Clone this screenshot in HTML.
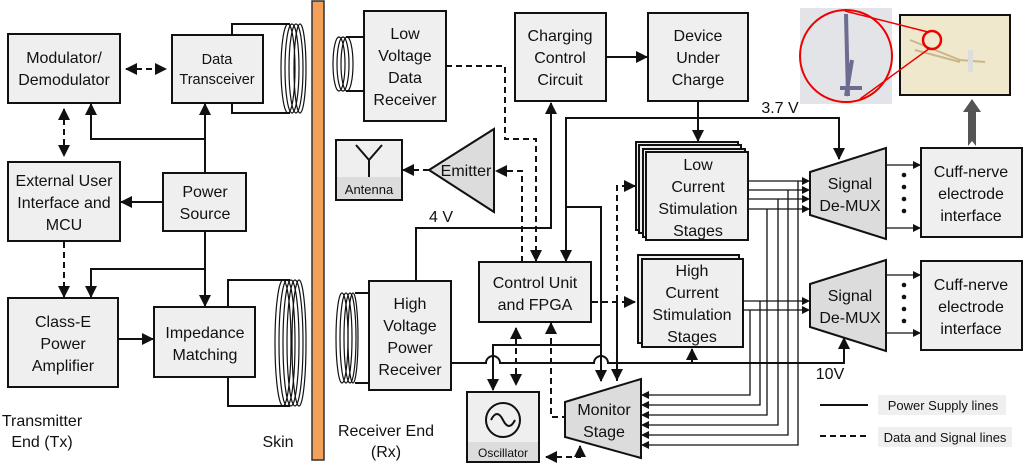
<!DOCTYPE html>
<html><head><meta charset="utf-8"><style>
html,body{margin:0;padding:0;background:#fff}
svg{display:block}
text{font-family:"Liberation Sans",sans-serif;font-size:16px;fill:#111;text-anchor:middle}
.b{fill:#efefef;stroke:#111;stroke-width:2}
.l{fill:none;stroke:#111;stroke-width:2}
.d{fill:none;stroke:#111;stroke-width:2;stroke-dasharray:6,4}
.t{fill:none;stroke:#111;stroke-width:1.3}
.c{fill:none;stroke:#111;stroke-width:1.2}
</style></head><body>
<svg width="1024" height="464" viewBox="0 0 1024 464" xmlns="http://www.w3.org/2000/svg">
<defs>
<marker id="a" markerWidth="8" markerHeight="8" refX="7" refY="4" orient="auto" markerUnits="userSpaceOnUse"><path d="M0,0 L8,4 L0,8 z" fill="#111"/></marker>
<marker id="a2" markerWidth="12" markerHeight="12" refX="11" refY="6" orient="auto" markerUnits="userSpaceOnUse"><path d="M0,0 L12,6 L0,12 z" fill="#111"/></marker>
<marker id="s" markerWidth="12" markerHeight="12" refX="1" refY="6" orient="auto" markerUnits="userSpaceOnUse"><path d="M12,0 L0,6 L12,12 z" fill="#111"/></marker>
</defs>

<rect x="312" y="1" width="12" height="459" fill="#f2a05a" stroke="#333" stroke-width="1.5"/>

<!-- LEFT -->
<rect class="b" x="8" y="34" width="112" height="69"/>
<text x="64" y="63">Modulator/</text><text x="64" y="85">Demodulator</text>
<polyline class="l" points="232,35 232,24 290,24"/>
<polyline class="l" points="232,103 232,113 290,113"/>
<g class="c"><ellipse cx="288" cy="68.5" rx="7" ry="44.5"/><ellipse cx="292" cy="68.5" rx="7" ry="44.5"/><ellipse cx="296" cy="68.5" rx="7" ry="44.5"/><ellipse cx="300" cy="68.5" rx="6" ry="44.5"/></g>
<rect class="b" x="172" y="35" width="91" height="68"/>
<text x="217" y="64" style="font-size:14.5px">Data</text><text x="217" y="84" style="font-size:14.5px">Transceiver</text>
<line class="d" x1="126" y1="69" x2="166" y2="69" marker-end="url(#a2)" marker-start="url(#s)"/>
<line class="d" x1="64" y1="109" x2="64" y2="156" marker-end="url(#a2)" marker-start="url(#s)"/>
<polyline class="l" points="205,173 205,139 91,139 91,104" marker-end="url(#a2)"/>
<line class="l" x1="205" y1="139" x2="205" y2="104" marker-end="url(#a2)"/>
<rect class="b" x="8" y="162" width="112" height="79"/>
<text x="64" y="186">External User</text><text x="64" y="208">Interface and</text><text x="64" y="230">MCU</text>
<rect class="b" x="163" y="173" width="83" height="58"/>
<text x="205" y="197">Power</text><text x="205" y="219">Source</text>
<line class="l" x1="163" y1="202" x2="121" y2="202" marker-end="url(#a2)"/>
<line class="l" x1="205" y1="231" x2="205" y2="306" marker-end="url(#a2)"/>
<polyline class="l" points="205,269 91,269 91,297" marker-end="url(#a2)"/>
<line class="d" x1="64" y1="242" x2="64" y2="297" marker-end="url(#a2)"/>
<rect class="b" x="8" y="298" width="110" height="89"/>
<text x="63" y="327">Class-E</text><text x="63" y="349">Power</text><text x="63" y="371">Amplifier</text>
<line class="l" x1="118" y1="339" x2="153" y2="339" marker-end="url(#a2)"/>
<polyline class="l" points="228,307 228,280 290,280"/>
<polyline class="l" points="228,377 228,406 290,406"/>
<g class="c" stroke-width="1.4"><ellipse cx="283" cy="343" rx="8" ry="63"/><ellipse cx="287" cy="343" rx="8" ry="63"/><ellipse cx="291" cy="343" rx="8" ry="63"/><ellipse cx="295" cy="343" rx="8" ry="63"/><ellipse cx="299" cy="343" rx="7" ry="63"/></g>
<rect class="b" x="154" y="307" width="101" height="70"/>
<text x="205" y="338">Impedance</text><text x="205" y="360">Matching</text>
<text x="42" y="426">Transmitter</text><text x="42" y="447">End (Tx)</text>
<text x="278" y="447">Skin</text>

<!-- RIGHT -->
<polyline class="l" points="364,37 346,37"/><polyline class="l" points="364,91 346,91"/>
<g class="c"><ellipse cx="339" cy="64" rx="6" ry="27"/><ellipse cx="343" cy="64" rx="6" ry="27"/><ellipse cx="347" cy="64" rx="6" ry="27"/></g>
<rect class="b" x="364" y="11" width="82" height="110"/>
<text x="405" y="39">Low</text><text x="405" y="61">Voltage</text><text x="405" y="83">Data</text><text x="405" y="105">Receiver</text>

<rect class="b" x="336" y="140" width="66" height="60"/>
<rect x="337" y="177" width="64" height="22" fill="#dcdcdc"/>
<path class="l" d="M356,145 L369,160 L382,145 M369,160 L369,177"/>
<text x="369" y="194" style="font-size:13px">Antenna</text>
<polygon points="429,170 494,129 494,212" fill="#dcdcdc" stroke="#111" stroke-width="2"/>
<text x="466" y="176">Emitter</text>
<line class="d" x1="429" y1="170" x2="403" y2="170" marker-end="url(#a2)"/>

<polyline class="l" points="416,281 416,228 551,228 551,103" marker-end="url(#a2)"/>
<text x="441" y="222">4 V</text>

<polyline class="l" points="369,293 355,293"/><polyline class="l" points="369,383 355,383"/>
<g class="c"><ellipse cx="342" cy="338" rx="6" ry="45"/><ellipse cx="346" cy="338" rx="6" ry="45"/><ellipse cx="350" cy="338" rx="6" ry="45"/><ellipse cx="353" cy="338" rx="5" ry="45"/></g>
<rect class="b" x="369" y="281" width="82" height="109"/>
<text x="410" y="309">High</text><text x="410" y="331">Voltage</text><text x="410" y="353">Power</text><text x="410" y="375">Receiver</text>

<rect class="b" x="515" y="13" width="91" height="88"/>
<text x="560" y="41">Charging</text><text x="560" y="63">Control</text><text x="560" y="85">Circuit</text>
<rect class="b" x="648" y="13" width="100" height="88"/>
<text x="698" y="41">Device</text><text x="698" y="63">Under</text><text x="698" y="85">Charge</text>
<line class="l" x1="606" y1="57" x2="647" y2="57" marker-end="url(#a2)"/>
<line class="l" x1="698" y1="101" x2="698" y2="141" marker-end="url(#a2)"/>

<polyline class="l" points="566,262 566,118 839,118 839,159" marker-end="url(#a2)"/>
<line class="l" x1="566" y1="118" x2="566" y2="261" marker-end="url(#a2)"/>
<text x="780" y="113">3.7 V</text>
<polyline class="l" points="566,207 601,207 601,381" marker-end="url(#a2)"/>

<polyline class="d" points="446,66 505,66 505,139 536,139 536,261" marker-end="url(#a2)"/>
<polyline class="d" points="522,262 522,171 496,171" marker-end="url(#a2)"/>

<rect class="b" x="479" y="262" width="112" height="60"/>
<text x="535" y="288">Control Unit</text><text x="535" y="310">and FPGA</text>
<line class="d" x1="592" y1="302" x2="635" y2="302" marker-end="url(#a2)"/>
<polyline class="d" points="617,381 617,186 635,186" marker-end="url(#a2)"/>
<line class="d" x1="617" y1="300" x2="617" y2="380" marker-end="url(#a2)"/>

<polyline class="l" points="601,345 493,345 493,390" marker-end="url(#a2)"/>
<path class="l" d="M451,363 L486,363 A7,7 0 0 1 500,363 L594,363 A7,7 0 0 1 608,363 L844,363 L844,338" marker-end="url(#a2)"/>
<line class="l" x1="692" y1="363" x2="692" y2="349" marker-end="url(#a2)"/>
<text x="830" y="379">10V</text>

<line class="d" x1="516" y1="328" x2="516" y2="385" marker-end="url(#a2)" marker-start="url(#s)"/>
<polyline class="d" points="551,328 551,417 565,417"/>
<line class="d" x1="551" y1="329" x2="551" y2="323" marker-end="url(#a2)"/>

<rect class="b" x="467" y="392" width="72" height="70"/>
<rect x="468" y="442" width="70" height="19" fill="#dcdcdc"/>
<circle class="l" cx="503" cy="420" r="17"/>
<path class="l" d="M491,420 q6,-12 12,0 q6,12 12,0"/>
<text x="503" y="457" style="font-size:12px">Oscillator</text>
<polyline class="d" points="546,457 580,457 580,446" marker-start="url(#s)" marker-end="url(#a2)"/>

<polygon points="565,402 641,379 641,458 565,437" fill="#dcdcdc" stroke="#111" stroke-width="2"/>
<text x="604" y="415">Monitor</text><text x="604" y="437">Stage</text>

<rect class="b" x="636" y="142" width="102" height="88"/>
<rect class="b" x="639" y="145" width="102" height="88" fill="#e4e4e4"/>
<rect class="b" x="643" y="149" width="102" height="88" fill="#e2e2e2"/>
<rect class="b" x="646" y="152" width="102" height="88" fill="#dedede"/>
<text x="698" y="170">Low</text><text x="698" y="192">Current</text><text x="698" y="214">Stimulation</text><text x="698" y="236">Stages</text>

<rect class="b" x="638" y="255" width="101" height="88"/>
<rect class="b" x="642" y="259" width="101" height="88" fill="#e4e4e4"/>
<text x="692" y="276">High</text><text x="692" y="298">Current</text><text x="692" y="320">Stimulation</text><text x="692" y="342">Stages</text>

<g class="t">
<line x1="748" y1="181" x2="809" y2="181" marker-end="url(#a)"/>
<line x1="748" y1="190" x2="809" y2="190" marker-end="url(#a)"/>
<line x1="748" y1="199" x2="809" y2="199" marker-end="url(#a)"/>
<line x1="748" y1="209" x2="809" y2="209" marker-end="url(#a)"/>
<line x1="743" y1="301" x2="809" y2="301" marker-end="url(#a)"/>
<line x1="743" y1="310" x2="809" y2="310" marker-end="url(#a)"/>
<polyline points="750,310 750,395 642,395" marker-end="url(#a)"/>
<polyline points="760,301 760,405 642,405" marker-end="url(#a)"/>
<polyline points="767,209 767,415 642,415" marker-end="url(#a)"/>
<polyline points="778,199 778,425 642,425" marker-end="url(#a)"/>
<polyline points="788,190 788,435 642,435" marker-end="url(#a)"/>
<polyline points="798,181 798,445 642,445" marker-end="url(#a)"/>
</g>

<polygon points="810,172 886,148 886,239 810,215" fill="#dcdcdc" stroke="#111" stroke-width="2"/>
<text x="850" y="189">Signal</text><text x="850" y="211">De-MUX</text>
<polygon points="810,284 886,260 886,351 810,327" fill="#dcdcdc" stroke="#111" stroke-width="2"/>
<text x="850" y="301">Signal</text><text x="850" y="323">De-MUX</text>

<g class="t">
<line x1="886" y1="165" x2="920" y2="165" marker-end="url(#a)"/>
<line x1="886" y1="228" x2="920" y2="228" marker-end="url(#a)"/>
<line x1="886" y1="275" x2="920" y2="275" marker-end="url(#a)"/>
<line x1="886" y1="333" x2="920" y2="333" marker-end="url(#a)"/>
</g>
<g fill="#111"><circle cx="904" cy="175" r="2.3"/><circle cx="904" cy="187" r="2.3"/><circle cx="904" cy="199" r="2.3"/><circle cx="904" cy="211" r="2.3"/>
<circle cx="904" cy="285" r="2.3"/><circle cx="904" cy="297" r="2.3"/><circle cx="904" cy="309" r="2.3"/><circle cx="904" cy="321" r="2.3"/></g>

<rect class="b" x="921" y="148" width="101" height="89"/>
<text x="971" y="177">Cuff-nerve</text><text x="971" y="199">electrode</text><text x="971" y="221">interface</text>
<rect class="b" x="921" y="261" width="101" height="89"/>
<text x="971" y="290">Cuff-nerve</text><text x="971" y="312">electrode</text><text x="971" y="334">interface</text>

<polygon points="968,146 968,112 963,112 972,99 981,112 976,112 976,146 972,141" fill="#555"/>
<rect x="800" y="8" width="92" height="96" fill="#e2e4e8"/>
<rect x="900" y="15" width="110" height="80" fill="#efe8cc" stroke="#111" stroke-width="2"/>
<path d="M846,14 L848,96 M852,60 L846,96 M840,88 L862,88" stroke="#6c6c90" stroke-width="4" fill="none"/>
<path d="M910,40 L960,60 L985,62 M915,50 L960,62" stroke="#c9b68a" stroke-width="2" fill="none"/>
<rect x="968" y="50" width="5" height="22" fill="#ddd"/>
<line x1="845" y1="11" x2="928" y2="32" stroke="#e00" stroke-width="1.5"/>
<line x1="860" y1="99" x2="930" y2="48" stroke="#e00" stroke-width="1.5"/>
<circle cx="846" cy="56" r="46" fill="none" stroke="#e00" stroke-width="2"/>
<circle cx="932" cy="40" r="9" fill="none" stroke="#e00" stroke-width="2.5"/>

<line class="l" x1="820" y1="405" x2="868" y2="405"/>
<line class="d" x1="820" y1="436" x2="868" y2="436"/>
<rect x="878" y="395" width="128" height="20" fill="#efefef"/>
<rect x="878" y="427" width="134" height="20" fill="#efefef"/>
<text x="943" y="410" style="font-size:13px">Power Supply lines</text>
<text x="945" y="442" style="font-size:13px">Data and Signal lines</text>

<text x="386" y="436">Receiver End</text><text x="386" y="457">(Rx)</text>
</svg>
</body></html>
